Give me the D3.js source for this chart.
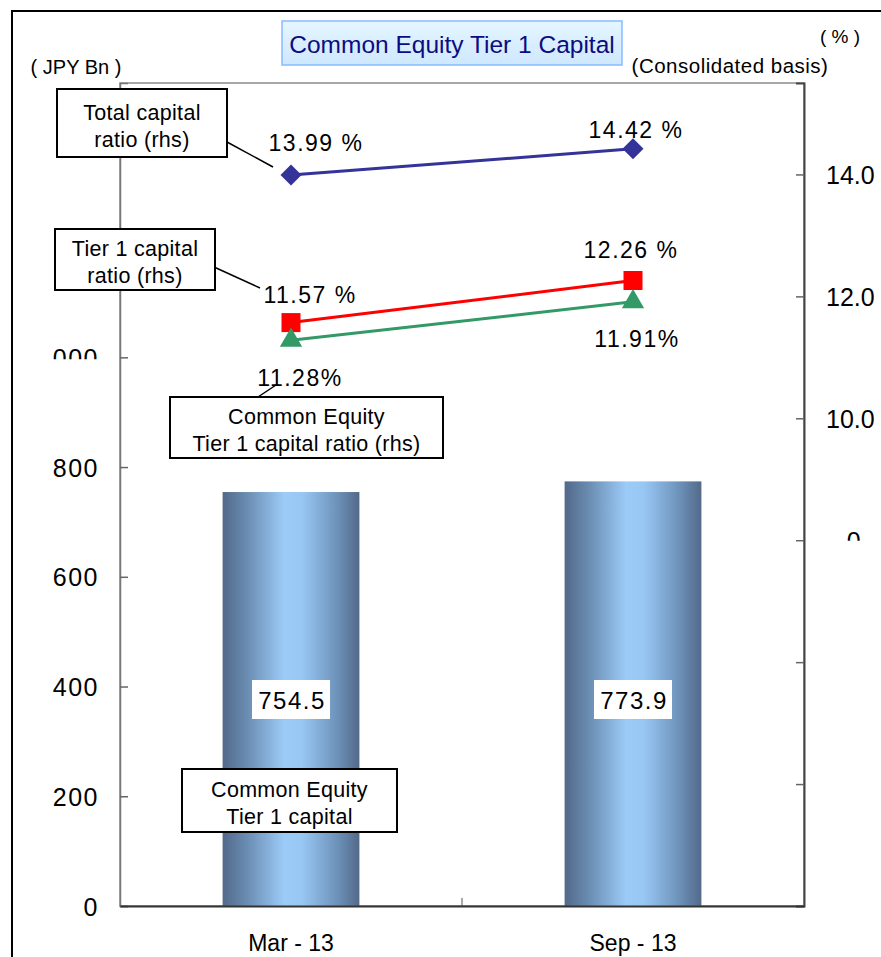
<!DOCTYPE html>
<html>
<head>
<meta charset="utf-8">
<script src="https://cdn.jsdelivr.net/npm/d3@7"></script>
<style>
  html, body { margin: 0; padding: 0; background: #fff; }
  svg { display: block; font-family: "Liberation Sans", Arial, sans-serif; }
</style>
</head>
<body>
<svg id="chart" width="881" height="957"></svg>
<script>
// Periods and values
const categories = ["Mar-13", "Sep-13"];
const cet1Capital = [754.5, 773.9];        // JPY Bn (bars, left axis)
const totalCapitalRatio = [13.99, 14.42];  // % (right axis)
const tier1Ratio = [11.57, 12.26];         // %
const cet1Ratio = [11.28, 11.91];          // %
const leftTicks = [0, 200, 400, 600, 800, 1000, 1200, 1400];
const rightTicks = [2, 4, 6, 8, 10, 12, 14];

const FONT = "Liberation Sans, Arial, sans-serif";
const svg = d3.select("#chart");
const plot = { left: 120, right: 804, top: 83, bottom: 906 };

const x = d3.scaleBand().domain(categories).range([plot.left, plot.right]).padding(0);
const yL = d3.scaleLinear().domain([0, 1500]).range([plot.bottom, plot.top]);
const yR = d3.scaleLinear().domain([2, 15.5]).range([plot.bottom, plot.top]);
const cx = c => x(c) + x.bandwidth() / 2;
const barW = x.bandwidth() * 0.4;

// Gradient for the cylinder-like bars
const defs = svg.append("defs");
const grad = defs.append("linearGradient").attr("id", "barGrad")
  .attr("x1", "0%").attr("x2", "100%").attr("y1", "0%").attr("y2", "0%");
[[0, "#52698a"], [0.18, "#6a8db2"], [0.45, "#9ccbf8"], [0.58, "#98c7f4"], [0.82, "#7096be"], [1, "#52698a"]]
  .forEach(([o, c]) => grad.append("stop").attr("offset", o).attr("stop-color", c));
const tgrad = defs.append("linearGradient").attr("id", "titleGrad")
  .attr("x1", "0%").attr("x2", "0%").attr("y1", "0%").attr("y2", "100%");
tgrad.append("stop").attr("offset", 0).attr("stop-color", "#e4f6ff");
tgrad.append("stop").attr("offset", 1).attr("stop-color", "#cfe8ff");

// clip regions (tick-local coordinates) for the partly covered tick labels
defs.append("clipPath").attr("id", "clipL").append("rect")
  .attr("x", 52 - plot.left).attr("y", -40).attr("width", 60).attr("height", 41.5);
defs.append("clipPath").attr("id", "clipR").append("rect")
  .attr("x", 42).attr("y", -40).attr("width", 40).attr("height", 40);

// Outer frame
svg.append("rect").attr("x", 12).attr("y", 11).attr("width", 900).attr("height", 1000)
  .attr("fill", "none").attr("stroke", "#000").attr("stroke-width", 2);

// Plot frame
svg.append("rect").attr("x", plot.left).attr("y", plot.top)
  .attr("width", plot.right - plot.left).attr("height", plot.bottom - plot.top)
  .attr("fill", "none").attr("stroke", "#8a8a8a").attr("stroke-width", 1.5);

// Bars
svg.append("g").selectAll("rect").data(categories).join("rect")
  .attr("x", (d) => cx(d) - barW / 2)
  .attr("y", (d, i) => yL(cet1Capital[i]))
  .attr("width", barW)
  .attr("height", (d, i) => yL(0) - yL(cet1Capital[i]))
  .attr("fill", "url(#barGrad)");

// Left axis
const axL = svg.append("g").attr("transform", `translate(${plot.left},0)`)
  .call(d3.axisLeft(yL).tickValues(leftTicks).tickSize(-8).tickPadding(21).tickFormat(d3.format(",")));
axL.attr("font-size", null).attr("font-family", null);
axL.select(".domain").attr("stroke", "#777").attr("stroke-width", 1.5);
axL.selectAll(".tick line").attr("stroke", "#666").attr("stroke-width", 1.5);
axL.selectAll(".tick text").style("font-size", "25px").attr("fill", "#000")
  .style("font-family", FONT).attr("letter-spacing", "1.5px").attr("dy", "0.36em")
  .attr("clip-path", d => d === 1000 ? "url(#clipL)" : null)
  .style("display", d => d > 1000 ? "none" : null);

// Right axis
const axR = svg.append("g").attr("transform", `translate(${plot.right},0)`)
  .call(d3.axisRight(yR).tickValues(rightTicks).tickSize(-8).tickPadding(22).tickFormat(d3.format(".1f")));
axR.attr("font-size", null).attr("font-family", null);
axR.select(".domain").attr("stroke", "#444").attr("stroke-width", 2);
axR.selectAll(".tick line").attr("stroke", "#666").attr("stroke-width", 1.5);
axR.selectAll(".tick text").style("font-size", "25px").attr("fill", "#000")
  .style("font-family", FONT).attr("dy", "0.36em")
  .attr("clip-path", d => d === 8 ? "url(#clipR)" : null)
  .style("display", d => d < 8 ? "none" : null);

// Bottom axis
const axB = svg.append("g").attr("transform", `translate(0,${plot.bottom})`)
  .call(d3.axisBottom(x).tickSize(0).tickPadding(29));
axB.attr("font-size", null).attr("font-family", null);
axB.select(".domain").attr("stroke", "#333").attr("stroke-width", 2);
axB.selectAll(".tick text").style("font-size", "23px").attr("fill", "#000")
  .style("font-family", FONT)
  .text(d => d.replace("-", " - "));
// divider tick between categories
svg.append("line").attr("x1", x(categories[1])).attr("x2", x(categories[1]))
  .attr("y1", plot.bottom - 8).attr("y2", plot.bottom).attr("stroke", "#555").attr("stroke-width", 1);

// Ratio lines
const diamond = { draw(ctx, size) { const r = Math.sqrt(size / 2); ctx.moveTo(0, -r); ctx.lineTo(r, 0); ctx.lineTo(0, r); ctx.lineTo(-r, 0); ctx.closePath(); } };
const series = [
  { vals: totalCapitalRatio, color: "#333399", shape: diamond, size: 220 },
  { vals: tier1Ratio, color: "#ff0000", shape: d3.symbolSquare, size: 361 },
  { vals: cet1Ratio, color: "#339966", shape: d3.symbolTriangle, size: 215 }
];
const line = d3.line().x((d, i) => cx(categories[i])).y(d => yR(d));
series.forEach(s => {
  svg.append("path").datum(s.vals).attr("d", line)
    .attr("fill", "none").attr("stroke", s.color).attr("stroke-width", 3);
});
series.forEach(s => {
  svg.append("g").selectAll("path").data(s.vals).join("path")
    .attr("transform", (d, i) => `translate(${cx(categories[i])},${yR(d)})`)
    .attr("d", d3.symbol().type(s.shape).size(s.size))
    .attr("fill", s.color);
});

function addText(txt, xx, yy, anchor, size, spacing) {
  return svg.append("text").attr("x", xx).attr("y", yy)
    .attr("text-anchor", anchor || "middle").attr("font-size", size || 20).attr("fill", "#000")
    .attr("letter-spacing", spacing == null ? "1.5px" : spacing).text(txt);
}

// Value labels of the ratio points
const ratioLabels = [
  { vals: totalCapitalRatio, fmt: v => v.toFixed(2) + " %", dx: [25, 3], dy: [-24, -11] },
  { vals: tier1Ratio, fmt: v => v.toFixed(2) + " %", dx: [19, -2], dy: [-20, -23] },
  { vals: cet1Ratio, fmt: v => v.toFixed(2) + "%", dx: [9, 4], dy: [46, 45] }
];
ratioLabels.forEach(r => {
  r.vals.forEach((v, i) => {
    addText(r.fmt(v), cx(categories[i]) + r.dx[i], yR(v) + r.dy[i], "middle", 23);
  });
});

// Bar value boxes
categories.forEach((c, i) => {
  svg.append("rect").attr("x", cx(c) - 39).attr("y", 680).attr("width", 78).attr("height", 39)
    .attr("fill", "#fff");
  addText(cet1Capital[i].toFixed(1), cx(c) + 1, 709, "middle", 24, "1.5px");
});

// Callout boxes with leader lines
function callout(bx, by, bw, bh, lines, leader) {
  if (leader) {
    svg.append("line").attr("x1", leader[0]).attr("y1", leader[1]).attr("x2", leader[2]).attr("y2", leader[3])
      .attr("stroke", "#000").attr("stroke-width", 1.5);
  }
  svg.append("rect").attr("x", bx).attr("y", by).attr("width", bw).attr("height", bh)
    .attr("fill", "#fff").attr("stroke", "#000").attr("stroke-width", 2);
  lines.forEach((ln, k) => {
    svg.append("text").attr("x", bx + bw / 2).attr("y", by + bh / 2 + (k - (lines.length - 1) / 2) * 27 + 10)
      .attr("text-anchor", "middle").attr("font-size", 21.5).attr("fill", "#000")
      .attr("letter-spacing", "0.3px").text(ln);
  });
}
callout(57, 89, 170, 68, ["Total capital", "ratio (rhs)"], [227, 142, 273, 167]);
callout(55, 229, 160, 61, ["Tier 1 capital", "ratio (rhs)"], [214, 267, 260, 288]);
callout(170, 397, 273, 61, ["Common Equity", "Tier 1 capital ratio (rhs)"], [258, 397, 276, 385]);
callout(182, 769, 215, 63, ["Common Equity", "Tier 1 capital"], null);

// Title
svg.append("rect").attr("x", 282).attr("y", 21).attr("width", 340).attr("height", 44)
  .attr("fill", "url(#titleGrad)").attr("stroke", "#88bbff").attr("stroke-width", 1.5);
svg.append("text").attr("x", 452).attr("y", 53).attr("text-anchor", "middle")
  .attr("font-size", 24.5).attr("fill", "#0c0c80").text("Common Equity Tier 1 Capital");

// Axis unit captions
addText("( JPY Bn )", 76, 74, "middle", 20, "0px");
addText("( % )", 840, 43, "middle", 19, "0px");
addText("(Consolidated basis)", 730, 73, "middle", 20.5, "0.5px");
</script>
</body>
</html>
